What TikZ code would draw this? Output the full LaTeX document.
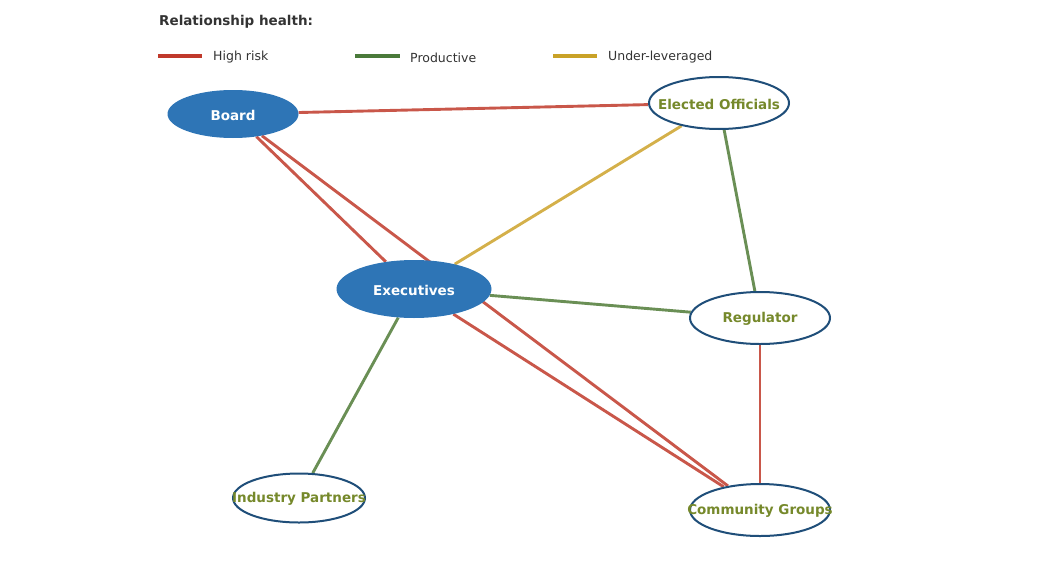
\documentclass[tikz,border=0pt]{standalone}
\usepackage{fontspec}
\setmainfont{DejaVu Sans}
\usetikzlibrary{shapes.geometric,backgrounds}
\definecolor{nodeblue}{HTML}{2E75B6}
\definecolor{rimblue}{HTML}{1F4E79}
\definecolor{olive}{HTML}{76892B}
\definecolor{edgered}{HTML}{C9574A}
\definecolor{edgegreen}{HTML}{6A8F55}
\definecolor{edgeyellow}{HTML}{D4B04A}
\definecolor{legred}{HTML}{C0392B}
\definecolor{leggreen}{HTML}{4A7A3A}
\definecolor{legyellow}{HTML}{C9A227}
\definecolor{txtgray}{HTML}{333333}
\tikzset{
  filledstake/.style={ellipse, fill=nodeblue, draw=none, inner sep=0pt},
  openstake/.style={ellipse, fill=white, draw=rimblue, line width=2pt, inner sep=0pt},
  whitelbl/.style={text=white, yshift=-1pt, font=\fontsize{13.5}{16}\selectfont\bfseries},
  olivelbl/.style={text=olive, yshift=-1.2pt, font=\fontsize{13.5}{16}\selectfont\bfseries},
  riskedge/.style={draw=edgered, line width=2.9pt},
  prodedge/.style={draw=edgegreen, line width=2.9pt},
  underedge/.style={draw=edgeyellow, line width=2.9pt},
  legline/.style={line width=3.6pt},
  legtext/.style={text=txtgray, anchor=west, inner sep=0pt, yshift=-1.5pt, font=\fontsize{12.5}{15}\selectfont},
}
\begin{document}
\begin{tikzpicture}[x=1pt,y=-1pt]
\useasboundingbox (0,0) rectangle (1056,578);
% legend
\node[anchor=west, inner sep=0pt, yshift=-1.5pt, text=txtgray, font=\fontsize{13.5}{16}\selectfont\bfseries] (ttl) at (159,20) {Relationship health:};
\coordinate (l1a) at (158,56); \coordinate (l1b) at (202,56);
\coordinate (l2a) at (355,56); \coordinate (l2b) at (400,56);
\coordinate (l3a) at (553,56); \coordinate (l3b) at (597,56);
\draw[legline, legred] (l1a) -- (l1b);
\draw[legline, leggreen] (l2a) -- (l2b);
\draw[legline, legyellow] (l3a) -- (l3b);
\node[legtext] (t1) at (213,56) {High risk};
\node[legtext] (t2) at (410,56) {Productive};
\node[legtext] (t3) at (608,56) {Under-leveraged};
% nodes
\node[filledstake, minimum width=131pt, minimum height=48pt, label={[whitelbl]center:Board}] (board) at (233,114) {};
\node[openstake, minimum width=140pt, minimum height=52pt, label={[olivelbl]center:Elected Officials}] (elected) at (719,103) {};
\node[filledstake, minimum width=155pt, minimum height=58pt, label={[whitelbl]center:Executives}] (exec) at (414,289) {};
\node[openstake, minimum width=140pt, minimum height=52pt, label={[olivelbl]center:Regulator}] (reg) at (760,318) {};
\node[openstake, minimum width=132pt, minimum height=49pt, label={[olivelbl]center:Industry Partners}] (ind) at (299,498) {};
\node[openstake, minimum width=140pt, minimum height=52pt, label={[olivelbl]center:Community Groups}] (comm) at (760,510) {};
% edges
\begin{scope}[on background layer]
\draw[riskedge] (board) -- (elected);
\draw[riskedge] (board) -- (exec);
\draw[riskedge] (board) -- (comm);
\draw[riskedge] (exec) -- (comm);
\draw[riskedge] (reg) -- (comm);
\draw[underedge] (elected) -- (exec);
\draw[prodedge] (elected) -- (reg);
\draw[prodedge] (exec) -- (reg);
\draw[prodedge] (exec) -- (ind);
\end{scope}
\end{tikzpicture}
\end{document}
